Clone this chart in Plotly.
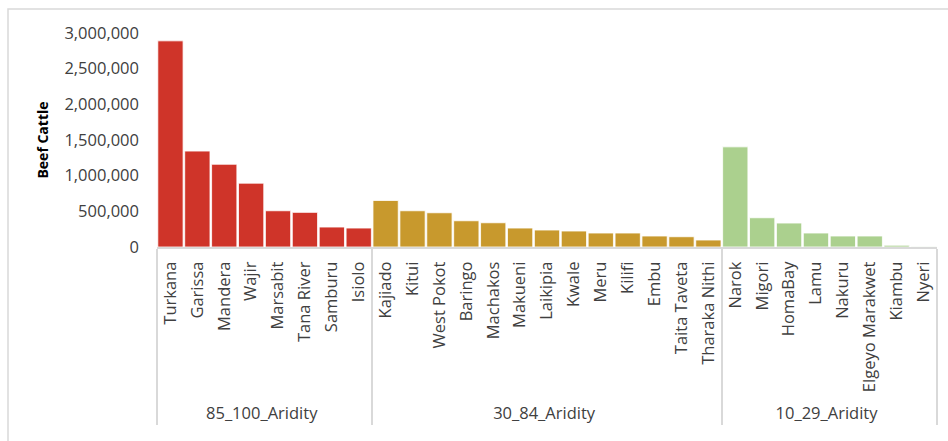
import plotly.graph_objects as go

groups = ["85_100_Aridity", "30_84_Aridity", "10_29_Aridity"]

counties_arid = ["Turkana", "Garissa", "Mandera", "Wajir", "Marsabit", "Tana River", "Samburu", "Isiolo"]
cattle_arid = [2890000, 1345000, 1160000, 895000, 508000, 486000, 280000, 266000]

counties_semi = ["Kajiado", "Kitui", "West Pokot", "Baringo", "Machakos", "Makueni", "Laikipia",
                 "Kwale", "Meru", "Kilifi", "Embu", "Taita Taveta", "Tharaka Nithi"]
cattle_semi = [652000, 508000, 480000, 368000, 340000, 266000, 238000,
               224000, 196000, 196000, 154000, 144000, 98000]

counties_humid = ["Narok", "Migori", "HomaBay", "Lamu", "Nakuru", "Elgeyo Marakwet", "Kiambu", "Nyeri"]
cattle_humid = [1404000, 410000, 336000, 196000, 154000, 154000, 25000, 4000]

colors = ["#CF3429", "#C8992D", "#ABD08E"]

fig = go.Figure()
for g, names, vals, c in zip(groups,
                             [counties_arid, counties_semi, counties_humid],
                             [cattle_arid, cattle_semi, cattle_humid],
                             colors):
    fig.add_trace(go.Bar(
        x=[[g] * len(names), names],
        y=vals,
        marker=dict(color=c, line=dict(color="rgba(255,255,255,0.8)", width=1)),
        showlegend=False,
    ))

W, H = 948, 441
left, right, top, bottom = 157, 11, 33, 194
pw = W - left - right
ph = H - top - bottom

def px_to_paper_x(px):
    return (px - left) / pw

def px_to_paper_y(py):
    return (H - bottom - py) / ph

fig.update_layout(
    width=W, height=H,
    margin=dict(l=left, r=right, t=top, b=bottom, pad=0),
    paper_bgcolor="white", plot_bgcolor="white",
    bargap=0.06,
    font=dict(family="Open Sans, sans-serif", size=17, color="#404040"),
    shapes=[dict(type="rect", xref="paper", yref="paper",
                 x0=px_to_paper_x(8), x1=px_to_paper_x(960),
                 y0=px_to_paper_y(460), y1=px_to_paper_y(9),
                 line=dict(color="#D9D9D9", width=1.5), layer="below")],
)
fig.update_xaxes(
    type="multicategory",
    tickangle=-90,
    showline=True, linecolor="#D9D9D9", linewidth=2,
    showdividers=True, dividercolor="#D9D9D9", dividerwidth=1.5,
    showgrid=False, ticks="",
    ticklabelstandoff=6,
    tickfont=dict(size=16.5, color="#404040"),
)
fig.update_yaxes(
    range=[0, 3000000], dtick=500000, tickformat=",d",
    showgrid=False, zeroline=False, showline=False,
    ticklabelstandoff=17,
    tickfont=dict(size=16.5, color="#404040"),
    title=dict(text="<b>Beef Cattle</b>", font=dict(size=14, color="#000000"), standoff=12),
)

fig.write_html("out.html")
